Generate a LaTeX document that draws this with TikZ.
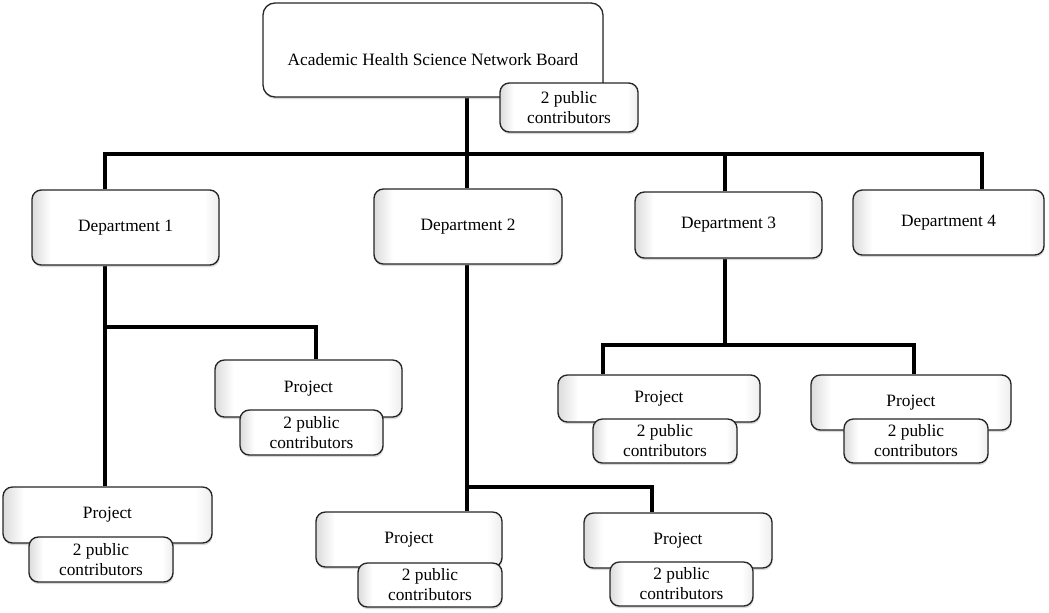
\documentclass[tikz,border=0pt]{standalone}
\usepackage{fontspec}
\setmainfont{Liberation Serif}
\usetikzlibrary{shadows,backgrounds}
% soft bevel: grey rim on the left, lighter rim on the right
\pgfdeclarehorizontalshading{bevel}{100bp}{color(0bp)=(black!14); color(25bp)=(black!14); color(30bp)=(white); color(71bp)=(white); color(75bp)=(black!7); color(100bp)=(black!7)}
\begin{document}
\begin{tikzpicture}[x=0.75pt,y=-0.75pt,
  wh/.style 2 args={minimum width=#1*0.75pt, minimum height=#2*0.75pt},
  basebox/.style={draw=black!85, line width=1pt, rounded corners=7pt,
    inner sep=0pt, align=center,
    font=\fontsize{13}{15}\selectfont,
    drop shadow={shadow xshift=0.5pt, shadow yshift=-1.6pt, opacity=0.3}},
  box/.style={basebox, shading=bevel},
  board/.style={basebox, fill=white, rounded corners=9pt},
  link/.style={line width=2.7pt, line join=miter}]
\useasboundingbox (0,0) rectangle (1049,612);

% board
\node[board, wh={340}{94},
  label={[name=boardtxt, yshift=-7pt, font=\fontsize{13}{15}\selectfont]center:Academic Health Science Network Board}]
  (board) at (433,50) {};
\node[box, wh={138}{49}] (bc) at (569,107.5) {2 public\\contributors};

% departments
\node[box, wh={187}{75}] (d1) at (125.5,227.5) {Department 1};
\node[box, wh={188}{75}] (d2) at (468,226.5) {Department 2};
\node[box, wh={187}{66}] (d3) at (728.5,225) {Department 3};
\node[box, wh={191}{65}] (d4) at (948.5,222.5) {Department 4};

% projects of department 1
\node[box, wh={187}{57}] (p1b) at (308.5,388.5) {Project};
\node[box, wh={143}{45}] (c1b) at (311.5,432.5) {2 public\\contributors};
\node[box, wh={209}{56}] (p1a) at (107.5,515) {Project};
\node[box, wh={144}{45}] (c1a) at (101,559.5) {2 public\\contributors};

% projects of department 2
\node[box, wh={186}{55}] (p2a) at (409,539.5) {Project};
\node[box, wh={144}{44}] (c2a) at (430,585) {2 public\\contributors};
\node[box, wh={188}{55}] (p2b) at (678,540.5) {Project};
\node[box, wh={143}{44}] (c2b) at (681.5,584) {2 public\\contributors};

% projects of department 3
\node[box, wh={202}{47}] (p3a) at (659,398.5) {Project};
\node[box, wh={144}{44}] (c3a) at (665,441) {2 public\\contributors};
\node[box, wh={200}{55}] (p3b) at (911,402.5) {Project};
\node[box, wh={144}{44}] (c3b) at (916,441) {2 public\\contributors};

% junction points of the tree
\coordinate (bus1) at (105,154);
\coordinate (bus2) at (467,154);
\coordinate (bus3) at (725,154);
\coordinate (bus4) at (982,154);
\coordinate (k1) at (105,327);
\coordinate (k1r) at (316,327);
\coordinate (k2) at (467,487);
\coordinate (k2r) at (652,487);
\coordinate (k3) at (725,345);
\coordinate (k3l) at (603,345);
\coordinate (k3r) at (914,345);

\begin{scope}[on background layer]
  \draw[link] (board.south -| bus2) -- (d2.north -| bus2);
  \draw[link] (d1.north -| bus1) -- (bus1) -- (bus4) -- (d4.north -| bus4);
  \draw[link] (bus3) -- (d3.north -| bus3);

  \draw[link] (d1.south -| k1) -- (p1a.north -| k1);
  \draw[link] (k1) -- (k1r) -- (p1b.north -| k1r);

  \draw[link] (d2.south -| k2) -- (p2a.north -| k2);
  \draw[link] (k2) -- (k2r) -- (p2b.north -| k2r);

  \draw[link] (d3.south -| k3) -- (k3);
  \draw[link] (p3a.north -| k3l) -- (k3l) -- (k3r) -- (p3b.north -| k3r);
\end{scope}
\end{tikzpicture}
\end{document}
